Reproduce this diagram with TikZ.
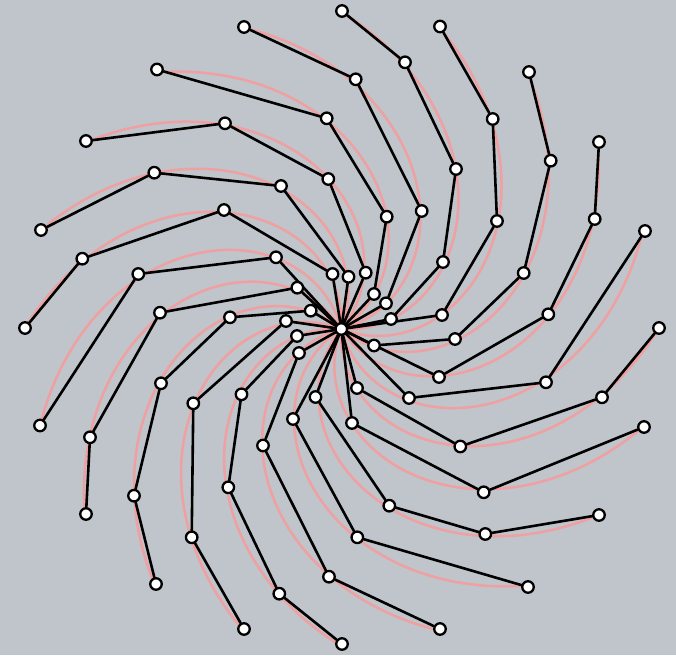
\documentclass[tikz,border=0pt]{standalone}
\definecolor{bgc}{RGB}{191,197,203}
\definecolor{pinkc}{RGB}{240,160,160}
\pgfdeclarelayer{back}
\pgfdeclarelayer{spiral}
\pgfdeclarelayer{edges}
\pgfsetlayers{back,spiral,edges,main}
\begin{document}
\begin{tikzpicture}[x=1pt,y=-1pt,
  dot/.style={circle,draw=black,fill=white,line width=2.3pt,inner sep=0pt,minimum size=11.5pt},
  seg/.style={draw=black,line width=2.6pt,line cap=round},
  spir/.style={draw=pinkc,line width=2.5pt}]
\begin{pgfonlayer}{back}
\fill[bgc] (0,0) rectangle (676,655);
\end{pgfonlayer}
\useasboundingbox (0,0) rectangle (676,655);
\node[dot] (c) at (341.3,329) {};
\foreach \i/\t/\pts in {
  1/-90/{(342,11),(405,62.3),(456,169),(443,262),(391,319)},
  2/-72/{(440,26.5),(492.7,119),(497,221),(442,315)},
  3/-54/{(529,72),(550.7,160.7),(523.7,273),(455,339),(374,345.5)},
  4/-36/{(599,142),(594.7,219),(548.3,314.3),(439,377)},
  5/-18/{(645,231),(546,382.3),(409,398)},
  6/0/{(659,328),(602,397.3),(460.3,446.5),(357,388)},
  7/18/{(644,427),(483.7,492.3),(352,423)},
  8/36/{(599,515),(485.3,534),(389.3,505.7),(315.5,397)},
  9/54/{(528,587),(357.3,537.3),(293,419)},
  10/72/{(440,629),(329,576.7),(263,445.5),(299,353)},
  11/90/{(342,644),(279.3,593.7),(228.3,487.3),(241.5,394.3),(297,336)},
  12/108/{(244,629),(191.7,537.3),(193.3,403.3),(286,321)},
  13/126/{(156,584),(134,495.7),(161,383.3),(230,317.3),(310.7,310.7)},
  14/144/{(86,514),(90,437.3),(160,312.7),(297.3,287.7)},
  15/162/{(40,425.5),(138.3,274),(276,257.3)},
  16/180/{(25,328),(82.3,258.7),(224,210),(332.5,274)},
  17/198/{(41,230),(154.3,172.7),(281,186),(348.5,276.8)},
  18/216/{(86,141),(225,123.3),(328.3,179),(365.7,272.7)},
  19/234/{(157,69.5),(326.7,118.3),(386.7,216.7),(374,294)},
  20/252/{(244,27),(355.7,79.3),(421.7,211),(386,303.3)}}{
  \foreach \p [count=\j from 0] in \pts {
    \node[dot] (p\i-\j) at \p {};
  }
  \begin{pgfonlayer}{spiral}
    \draw[spir,shift={(341.3,329)}] plot[domain=0:317,samples=90,smooth,variable=\s] ({\t+0.296*(317-\s)}:{\s});
  \end{pgfonlayer}
}
\begin{pgfonlayer}{edges}
\draw[seg] (p1-0)--(p1-1)--(p1-2)--(p1-3)--(p1-4)--(c);
\draw[seg] (p2-0)--(p2-1)--(p2-2)--(p2-3)--(c);
\draw[seg] (p3-0)--(p3-1)--(p3-2)--(p3-3)--(p3-4)--(c);
\draw[seg] (p4-0)--(p4-1)--(p4-2)--(p4-3)--(c);
\draw[seg] (p5-0)--(p5-1)--(p5-2)--(c);
\draw[seg] (p6-0)--(p6-1)--(p6-2)--(p6-3)--(c);
\draw[seg] (p7-0)--(p7-1)--(p7-2)--(c);
\draw[seg] (p8-0)--(p8-1)--(p8-2)--(p8-3)--(c);
\draw[seg] (p9-0)--(p9-1)--(p9-2)--(c);
\draw[seg] (p10-0)--(p10-1)--(p10-2)--(p10-3)--(c);
\draw[seg] (p11-0)--(p11-1)--(p11-2)--(p11-3)--(p11-4)--(c);
\draw[seg] (p12-0)--(p12-1)--(p12-2)--(p12-3)--(c);
\draw[seg] (p13-0)--(p13-1)--(p13-2)--(p13-3)--(p13-4)--(c);
\draw[seg] (p14-0)--(p14-1)--(p14-2)--(p14-3)--(c);
\draw[seg] (p15-0)--(p15-1)--(p15-2)--(c);
\draw[seg] (p16-0)--(p16-1)--(p16-2)--(p16-3)--(c);
\draw[seg] (p17-0)--(p17-1)--(p17-2)--(p17-3)--(c);
\draw[seg] (p18-0)--(p18-1)--(p18-2)--(p18-3)--(c);
\draw[seg] (p19-0)--(p19-1)--(p19-2)--(p19-3)--(c);
\draw[seg] (p20-0)--(p20-1)--(p20-2)--(p20-3)--(c);
\end{pgfonlayer}
\end{tikzpicture}
\end{document}
